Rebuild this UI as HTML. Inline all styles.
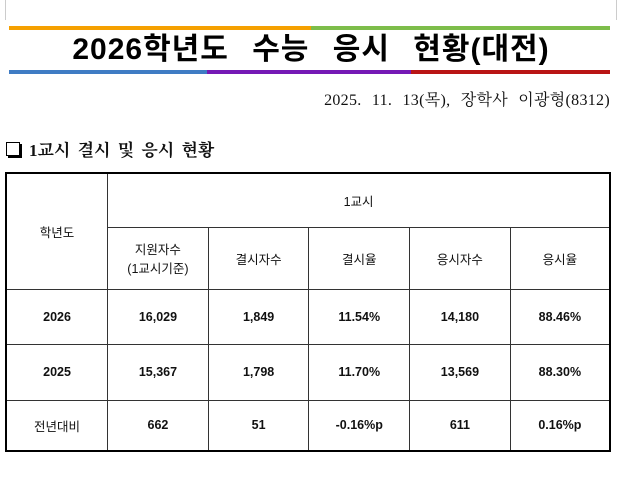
<!DOCTYPE html>
<html><head><meta charset="utf-8">
<style>
body{margin:0;width:640px;height:483px;background:#fff;position:relative;overflow:hidden;font-family:"Liberation Sans","Noto Sans CJK KR",sans-serif;}
.abs{position:absolute;}
table{position:absolute;left:5px;top:172px;width:606px;height:279px;border-collapse:collapse;border:2px solid #000;}
td{border:1px solid #333;text-align:center;font-size:12.5px;color:#111;padding:0;}
.num{font-weight:bold;font-size:12.5px;}
</style></head><body>
<div class="abs" style="left:5px;top:0;width:1px;height:20px;background:#ccc"></div>
<div class="abs" style="left:616px;top:0;width:1px;height:20px;background:#ccc"></div>
<div class="abs" style="left:9px;top:26px;width:302px;height:4px;background:#f5a000"></div>
<div class="abs" style="left:311px;top:26px;width:299px;height:4px;background:#7dbd4a"></div>
<div class="abs" style="left:0;top:30px;width:622px;text-align:center;font-size:30px;font-weight:bold;word-spacing:14px;letter-spacing:1px;line-height:40px">2026학년도 수능 응시 현황(대전)</div>
<div class="abs" style="left:9px;top:70px;width:198px;height:4px;background:#3f7cc4"></div>
<div class="abs" style="left:207px;top:70px;width:204px;height:4px;background:#7519b5"></div>
<div class="abs" style="left:411px;top:70px;width:199px;height:4px;background:#b91515"></div>
<div class="abs" style="right:30px;top:87px;font-family:'Liberation Serif','Noto Serif CJK SC',serif;font-size:16px;color:#111;word-spacing:6px;letter-spacing:0.3px">2025. 11. 13(목), 장학사 이광형(8312)</div>
<div class="abs" style="left:6px;top:142px;width:12px;height:12px;border:1.5px solid #000;box-shadow:2px 2px 0 #000"></div>
<div class="abs" style="left:29px;top:136px;font-family:'Liberation Serif','Noto Serif CJK SC',serif;font-size:17px;font-weight:bold;color:#111;word-spacing:3px">1교시 결시 및 응시 현황</div>
<table>
<colgroup><col style="width:102px"><col style="width:101px"><col style="width:101px"><col style="width:101px"><col style="width:101px"><col style="width:100px"></colgroup>
<tr style="height:54px"><td rowspan="2">학년도</td><td colspan="5">1교시</td></tr>
<tr style="height:62px"><td>지원자수<br>(1교시기준)</td><td>결시자수</td><td>결시율</td><td>응시자수</td><td>응시율</td></tr>
<tr style="height:55px"><td class="num">2026</td><td class="num">16,029</td><td class="num">1,849</td><td class="num">11.54%</td><td class="num">14,180</td><td class="num">88.46%</td></tr>
<tr style="height:56px"><td class="num">2025</td><td class="num">15,367</td><td class="num">1,798</td><td class="num">11.70%</td><td class="num">13,569</td><td class="num">88.30%</td></tr>
<tr style="height:51px"><td>전년대비</td><td class="num">662</td><td class="num">51</td><td class="num">-0.16%p</td><td class="num">611</td><td class="num">0.16%p</td></tr>
</table>
</body></html>
